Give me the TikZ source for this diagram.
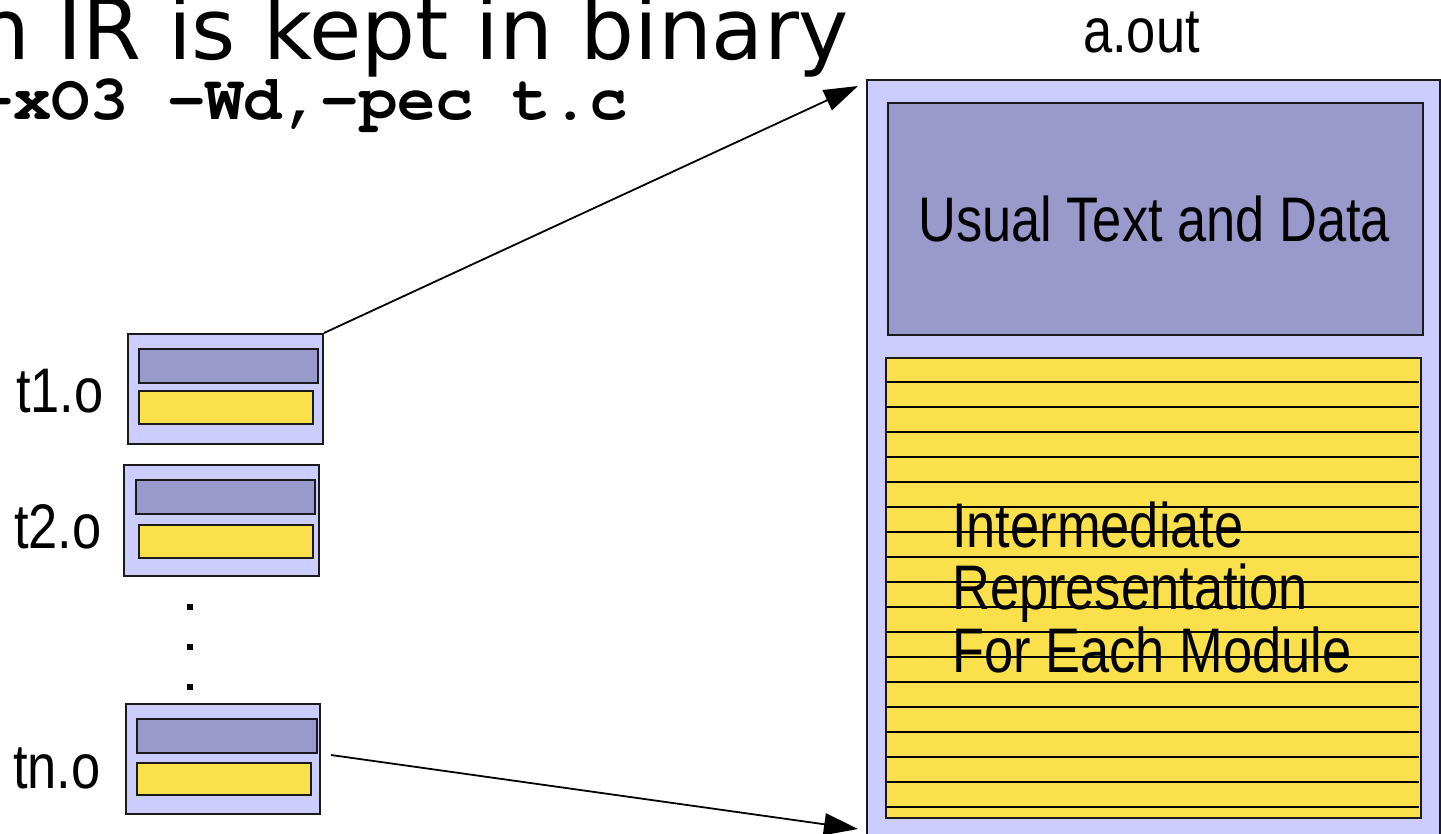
\documentclass[tikz,border=0pt]{standalone}
\usepackage{fontspec}
\setmainfont{Liberation Sans}
\newfontfamily\narrowfont[FakeStretch=0.832]{Liberation Sans}
\newfontfamily\titlefont{DejaVu Sans}
\newcommand\codefont{\fontencoding{OT1}\fontfamily{pcr}\fontseries{b}\fontshape{n}\selectfont}
\usetikzlibrary{arrows.meta}
\definecolor{palebox}{HTML}{CCCCFF}
\definecolor{textsec}{HTML}{9999CC}
\definecolor{irsec}{HTML}{FAE14B}
\definecolor{edge}{HTML}{1A1A1A}
\begin{document}
\begin{tikzpicture}[x=1pt,y=-1pt,
  frame/.style={draw=edge,line width=2pt,fill=palebox,inner sep=0pt,anchor=north west},
  txtsec/.style={draw=edge,line width=2pt,fill=textsec,inner sep=0pt,anchor=north west},
  irbar/.style={draw=edge,line width=2pt,fill=irsec,inner sep=0pt,anchor=north west},
  ruling/.style={draw=black,line width=1.5pt},
  lbl/.style={font=\narrowfont\fontsize{63}{63}\selectfont,anchor=base west,inner sep=0pt},
  link/.style={line width=1.8pt,-{Triangle[length=34pt,width=22pt]}}
]
\useasboundingbox (0,0) rectangle (1441,834);
\clip (0,0) rectangle (1441,834);

% title fragments
\node[anchor=base west,inner sep=0pt,font=\titlefont\fontsize{85}{85}\selectfont] (title) at (-24,60) {n IR is kept in binary};
\node[anchor=base west,inner sep=0pt,font=\codefont\fontsize{64}{64}\selectfont] (cmd) at (-25,120) {-xO3 -Wd,-pec t.c};

% object files
\node[frame,minimum width=195pt,minimum height=110pt] (t1) at (127,333) {};
\node[txtsec,minimum width=179pt,minimum height=34pt] (t1a) at (138,348) {};
\node[irbar,minimum width=174pt,minimum height=33pt] (t1b) at (138,390) {};

\node[frame,minimum width=195pt,minimum height=111pt] (t2) at (123,464) {};
\node[txtsec,minimum width=179pt,minimum height=34pt] (t2a) at (135,479) {};
\node[irbar,minimum width=174pt,minimum height=33pt] (t2b) at (138,524) {};

\node[frame,minimum width=194pt,minimum height=110pt] (tn) at (125,703) {};
\node[txtsec,minimum width=180pt,minimum height=34pt] (tna) at (136,718) {};
\node[irbar,minimum width=174pt,minimum height=32pt] (tnb) at (136,762) {};

\node[lbl] (l1) at (16,413) {t1.o};
\node[lbl] (l2) at (14,548) {t2.o};
\node[lbl] (ln) at (13,788) {tn.o};

\fill (187,604) rectangle (193,610);
\fill (187,644) rectangle (193,650);
\fill (187,684) rectangle (193,690);

% a.out
\node[lbl] (aoutlbl) at (1083,53) {a.out};
\node[frame,minimum width=573pt,minimum height=800pt] (aout) at (866,79) {};
\node[txtsec,minimum width=535pt,minimum height=232pt] (usual) at (887,102) {};
\node[lbl] (usualtxt) at (918,242) {Usual Text and Data};
\node[irbar,minimum width=535pt,minimum height=460pt] (ir) at (885,357) {};
\foreach \k in {1,...,18}{
  \draw[ruling] (886,357+25*\k) -- (1419,357+25*\k);
}
\node[lbl] (ir1) at (952,547) {Intermediate};
\node[lbl] (ir2) at (952,609) {Representation};
\node[lbl] (ir3) at (952,672) {For Each Module};

% connectors
\coordinate (tip1) at (858,86);
\coordinate (tail2) at (331,755);
\coordinate (tip2) at (858,829);
\draw[link] (t1.north east) -- (tip1);
\draw[link] (tail2) -- (tip2);
\end{tikzpicture}
\end{document}
